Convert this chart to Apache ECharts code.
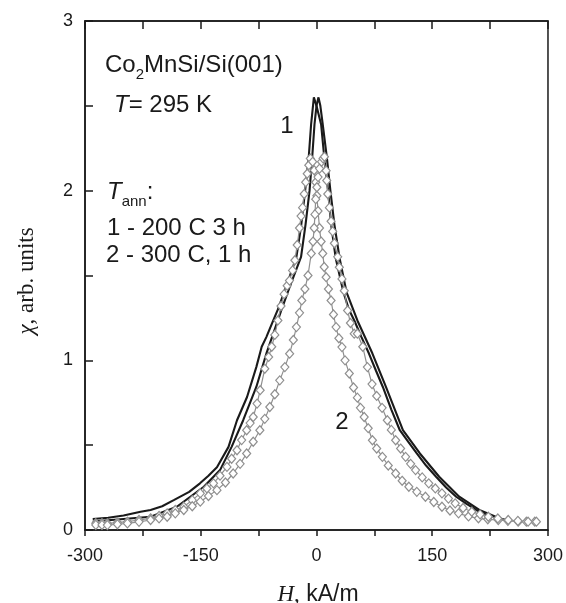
<!DOCTYPE html>
<html>
<head>
<meta charset="utf-8">
<script src="https://cdn.jsdelivr.net/npm/echarts@6/dist/echarts.min.js"></script>
<style>
html,body{margin:0;padding:0;background:#fff;}
#c{width:566px;height:603px;}
</style>
</head>
<body>
<div id="c"></div>
<script>
// ---- Data (H in kA/m, chi in arb. units) ----
// Curve 1, branch a (solid, peak at negative field)
var h1a = [-290, -270, -250, -228, -215, -200, -185, -165, -151, -140, -129, -114, -103, -90, -78, -71, -65, -56, -50, -42, -35, -26, -20, -15, -10, -7, -3.4, 0, 6, 10, 15, 19, 25, 35, 42, 49, 58, 68, 77, 86, 97, 108, 119, 130, 142, 155, 168, 181, 194, 207, 220, 234, 243];
var chi1a = [0.065, 0.072, 0.085, 0.108, 0.118, 0.14, 0.176, 0.225, 0.275, 0.32, 0.37, 0.49, 0.647, 0.784, 0.96, 1.08, 1.137, 1.235, 1.3, 1.4, 1.49, 1.61, 1.79, 1.99, 2.2, 2.39, 2.55, 2.5, 2.39, 2.2, 2.0, 1.8, 1.6, 1.4, 1.3, 1.235, 1.14, 1.04, 0.94, 0.843, 0.71, 0.588, 0.52, 0.451, 0.38, 0.314, 0.25, 0.196, 0.155, 0.118, 0.09, 0.069, 0.059];
// Curve 1, branch b (solid, peak at positive field)
var h1b = [-290, -250, -215, -181, -146, -125, -110, -95, -78, -65, -56, -46, -35, -20, -14.2, -9, -5.5, -2.6, 0, 2.6, 5, 8.1, 13.3, 18, 23.2, 30, 39, 53, 72.5, 90, 112, 134, 159, 185, 211, 237, 246];
var chi1b = [0.05, 0.065, 0.078, 0.137, 0.255, 0.353, 0.49, 0.647, 0.843, 1.039, 1.157, 1.29, 1.43, 1.61, 1.8, 2.0, 2.2, 2.39, 2.5, 2.55, 2.5, 2.39, 2.2, 2.0, 1.8, 1.6, 1.4, 1.235, 1.04, 0.843, 0.588, 0.451, 0.314, 0.196, 0.118, 0.069, 0.059];
// Curve 2, branch c (diamonds, peak at negative field)
var h2c = [-286, -278, -271, -258, -245, -230, -215, -204, -193.5, -183, -172, -161, -150.6, -142, -133.5, -125, -116, -110, -103, -97, -90.5, -86, -82, -77, -73, -67, -62, -58, -54, -50, -46, -42, -38, -35, -31, -28, -25, -22, -20, -18, -16, -14, -12, -10, -8, -5, -3, -1, 0.5, 2, 3.9, 6, 8.1, 10, 12.5, 15.5, 18.9, 22, 25.4, 29, 33, 37, 42.5, 48, 53, 57, 61.8, 67, 72.5, 78, 85.4, 93, 102.6, 111, 119.7, 130, 141.2, 152, 162.6, 173, 184.1, 197, 209.9, 222, 235.6, 248, 261.4, 272, 282.9];
var chi2c = [0.04, 0.04, 0.039, 0.044, 0.049, 0.059, 0.069, 0.083, 0.098, 0.118, 0.137, 0.176, 0.216, 0.245, 0.275, 0.32, 0.372, 0.42, 0.47, 0.53, 0.588, 0.63, 0.666, 0.745, 0.824, 0.95, 1.02, 1.08, 1.15, 1.235, 1.32, 1.39, 1.44, 1.47, 1.53, 1.59, 1.68, 1.78, 1.85, 1.9, 1.98, 2.05, 2.1, 2.15, 2.19, 2.17, 2.12, 2.05, 1.97, 1.88, 1.78, 1.7, 1.63, 1.55, 1.49, 1.42, 1.353, 1.27, 1.196, 1.13, 1.078, 1.0, 0.922, 0.84, 0.78, 0.72, 0.666, 0.6, 0.529, 0.48, 0.431, 0.38, 0.333, 0.29, 0.255, 0.225, 0.196, 0.165, 0.137, 0.115, 0.098, 0.08, 0.069, 0.063, 0.059, 0.054, 0.049, 0.049, 0.049];
// Curve 2, branch d (diamonds, peak at positive field)
var h2d = [-286, -278, -271, -258, -245, -230, -215, -204, -193.5, -183, -172, -161, -150.6, -140, -129, -118, -108, -99, -90.5, -82, -73.4, -67, -60.5, -54, -47.6, -41, -34.8, -30, -26, -22, -19, -15, -11, -6.8, -4.5, -3, -2, -1, 0.5, 2, 4, 6.5, 8.5, 10.3, 12.5, 13.3, 14.6, 16.7, 18.9, 21, 23.2, 27.5, 29.6, 33, 36, 40.3, 44, 48.9, 53, 60, 66, 72, 78, 85, 91.8, 97, 102.6, 109, 115.5, 122, 128.4, 137, 145.5, 154, 162.6, 171, 179.8, 190, 201.2, 212, 222.7, 235, 248.5, 261, 274.2, 285];
var chi2d = [0.03, 0.03, 0.029, 0.034, 0.039, 0.048, 0.059, 0.068, 0.078, 0.098, 0.118, 0.14, 0.167, 0.2, 0.235, 0.28, 0.333, 0.39, 0.451, 0.52, 0.588, 0.655, 0.725, 0.8, 0.882, 0.96, 1.039, 1.12, 1.196, 1.28, 1.353, 1.42, 1.5, 1.63, 1.7, 1.78, 1.86, 1.95, 2.02, 2.08, 2.13, 2.17, 2.19, 2.2, 2.118, 2.06, 1.98, 1.9, 1.82, 1.76, 1.69, 1.61, 1.549, 1.48, 1.41, 1.294, 1.22, 1.157, 1.157, 1.08, 0.96, 0.86, 0.79, 0.72, 0.647, 0.59, 0.529, 0.48, 0.431, 0.39, 0.353, 0.31, 0.275, 0.245, 0.216, 0.185, 0.157, 0.13, 0.108, 0.092, 0.078, 0.068, 0.059, 0.054, 0.049, 0.049];
// Axis ticks
var xTicks = [-300, -150, 0, 150, 300];
var yTicks = [0, 1, 2, 3];

function zip(a, b) { return a.map(function (v, i) { return [v, b[i]]; }); }

var chart = echarts.init(document.getElementById('c'), null, { renderer: 'canvas' });
var sans = '"Liberation Sans", Arial, sans-serif';
var serif = '"Liberation Serif", "Times New Roman", serif';
var ink = '#1a1a1a';
var grey = '#8f8f8f';

var solidStyle = { color: ink, width: 2.1 };
var diamondSeries = function (data) {
  return {
    type: 'line', data: data, symbol: 'diamond', symbolSize: [8, 9], showSymbol: true,
    lineStyle: { color: grey, width: 1.2 },
    itemStyle: { color: '#fff', borderColor: grey, borderWidth: 1.2 },
    animation: false, z: 3
  };
};

var option = {
  animation: false,
  backgroundColor: '#fff',
  grid: { left: 85, right: 16, top: 21, bottom: 73, show: true, borderColor: ink, borderWidth: 1.5, backgroundColor: 'transparent' },
  xAxis: [{
    type: 'value', min: -300, max: 300, interval: 75, position: 'bottom',
    axisLine: { show: true, onZero: false, lineStyle: { color: ink, width: 1.5 } },
    axisTick: { show: true, inside: false, length: 6, lineStyle: { color: ink, width: 1.5 } },
    axisLabel: {
      show: true, margin: 17, fontSize: 18, color: ink, fontFamily: sans,
      formatter: function (v) { return xTicks.indexOf(v) >= 0 ? String(v) : ''; }
    },
    splitLine: { show: false }
  }, {
    type: 'value', min: -300, max: 300, interval: 75, position: 'top',
    axisLine: { show: true, onZero: false, lineStyle: { color: ink, width: 1.5 } },
    axisTick: { show: true, inside: true, length: 8, lineStyle: { color: ink, width: 1.5 } },
    axisLabel: { show: false }, splitLine: { show: false }
  }],
  yAxis: [{
    type: 'value', min: 0, max: 3, interval: 0.5, position: 'left',
    axisLine: { show: true, onZero: false, lineStyle: { color: ink, width: 1.5 } },
    axisTick: { show: true, inside: true, length: 8, lineStyle: { color: ink, width: 1.5 } },
    axisLabel: {
      show: true, margin: 12, fontSize: 18, color: ink, fontFamily: sans,
      formatter: function (v) { return yTicks.indexOf(v) >= 0 ? String(v) : ''; }
    },
    splitLine: { show: false }
  }],
  series: [
    { type: 'line', data: zip(h1a, chi1a), showSymbol: false, symbol: 'none', lineStyle: solidStyle, z: 2 },
    { type: 'line', data: zip(h1b, chi1b), showSymbol: false, symbol: 'none', lineStyle: solidStyle, z: 2 },
    diamondSeries(zip(h2c, chi2c)),
    diamondSeries(zip(h2d, chi2d))
  ],
  graphic: [
    {
      type: 'text', left: 105, top: 53,
      style: {
        text: '{a|Co}{s|2}{a|MnSi/Si(001)}',
        rich: {
          a: { fontSize: 24, fontFamily: sans, fill: ink, lineHeight: 24, verticalAlign: 'top' },
          s: { fontSize: 15, fontFamily: sans, fill: ink, lineHeight: 15, padding: [14, 0, 0, 0], verticalAlign: 'top' }
        }
      }
    },
    {
      type: 'text', left: 114, top: 93,
      style: {
        text: '{i|T}{a|= 295 K}',
        rich: {
          i: { fontSize: 24, fontFamily: sans, fontStyle: 'italic', fill: ink, lineHeight: 24 },
          a: { fontSize: 24, fontFamily: sans, fill: ink, lineHeight: 24 }
        }
      }
    },
    { type: 'text', x: 287, y: 126, style: { text: '1', fontSize: 24, fontFamily: sans, fill: ink, align: 'center', verticalAlign: 'middle' } },
    { type: 'text', x: 342, y: 422, style: { text: '2', fontSize: 24, fontFamily: sans, fill: ink, align: 'center', verticalAlign: 'middle' } },
    {
      type: 'text', left: 107, top: 180,
      style: {
        text: '{i|T}{s|ann}{a|:}',
        rich: {
          i: { fontSize: 24, fontFamily: sans, fontStyle: 'italic', fill: ink, lineHeight: 24, verticalAlign: 'top' },
          s: { fontSize: 15, fontFamily: sans, fill: ink, lineHeight: 15, padding: [14, 0, 0, 0], verticalAlign: 'top' },
          a: { fontSize: 24, fontFamily: sans, fill: ink, lineHeight: 24, verticalAlign: 'top' }
        }
      }
    },
    { type: 'text', left: 107, top: 216, style: { text: '1 - 200 C 3 h', fontSize: 24, fontFamily: sans, fill: ink } },
    { type: 'text', left: 106, top: 243, style: { text: '2 - 300 C, 1 h', fontSize: 24, fontFamily: sans, fill: ink } },
    {
      type: 'text', x: 27, y: 281, rotation: Math.PI / 2,
      style: {
        text: '{i|χ}{a|, arb. units}', align: 'center', verticalAlign: 'middle',
        rich: {
          i: { fontSize: 23, fontFamily: serif, fontStyle: 'italic', fill: ink },
          a: { fontSize: 23, fontFamily: serif, fill: ink }
        }
      }
    },
    {
      type: 'text', x: 318, y: 595,
      style: {
        text: '{i|H}{c|,}{a| kA/m}', align: 'center', verticalAlign: 'middle',
        rich: {
          i: { fontSize: 23, fontFamily: serif, fontStyle: 'italic', fill: ink },
          c: { fontSize: 23, fontFamily: serif, fill: ink },
          a: { fontSize: 23, fontFamily: sans, fill: ink }
        }
      }
    }
  ]
};
chart.setOption(option);
</script>
</body>
</html>
